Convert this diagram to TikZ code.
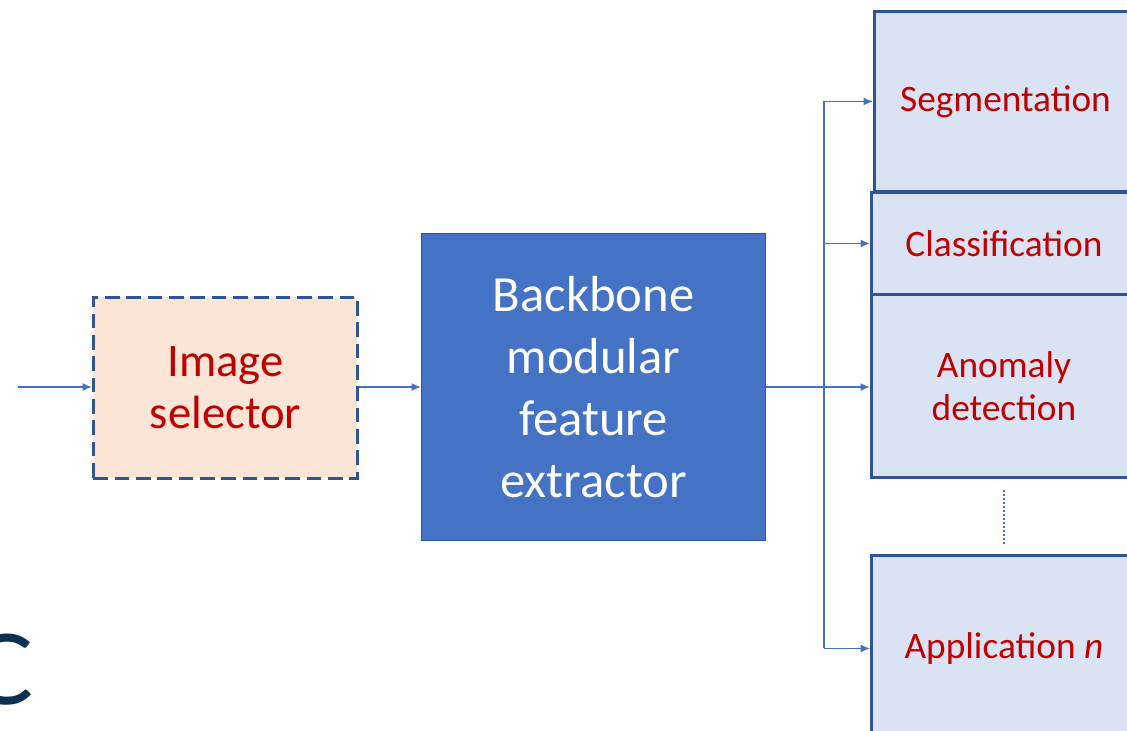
\documentclass[tikz,border=0pt]{standalone}
\usepackage{fontspec}
\setmainfont{Carlito}
\newfontfamily\labelfont{Lato}
\usetikzlibrary{arrows.meta}
\definecolor{redtxt}{HTML}{C00000}
\definecolor{peach}{HTML}{FBE5D6}
\definecolor{bbblue}{HTML}{4472C4}
\definecolor{lightblue}{HTML}{DAE3F3}
\definecolor{edgeblue}{HTML}{2F5597}
\definecolor{navy}{HTML}{0D3050}
\tikzset{
  arr/.style={draw=bbblue, line width=1.1pt, -{Latex[length=7pt,width=6pt]}},
  busline/.style={draw=bbblue, line width=1.1pt},
  selbox/.style={draw=edgeblue, fill=peach, line width=2.2pt, dash pattern=on 11pt off 5pt,
    text=redtxt, align=center, inner sep=0pt, font=\fontsize{35}{39}\selectfont},
  bbbox/.style={draw=edgeblue, fill=bbblue, line width=0.8pt, text=white, align=center,
    inner sep=0pt, font=\fontsize{38}{46.5}\selectfont},
  appbox/.style={draw=edgeblue, fill=lightblue, line width=2.2pt, text=redtxt, align=center,
    inner sep=0pt, font=\fontsize{28}{32}\selectfont},
}
\begin{document}
\begin{tikzpicture}[x=0.75pt,y=-0.75pt]
\useasboundingbox (0,0) rectangle (1127,731);
\clip (0,0) rectangle (1127,731);
% image selector
\node[selbox, minimum width=198pt, minimum height=135.75pt, anchor=north west] (sel) at (92,296) {Image\\selector};
% backbone
\node[bbbox, minimum width=258pt, minimum height=230.25pt, anchor=north west] (bb) at (421,233) {Backbone\\modular\\feature\\extractor};
% application boxes
\node[appbox, minimum width=196.5pt, minimum height=135pt, anchor=north west] (sg) at (873,10) {Segmentation};
\node[appbox, minimum width=198.75pt, minimum height=76.5pt, anchor=north west] (cl) at (870,191) {Classification};
\node[appbox, minimum width=198.75pt, minimum height=137.25pt, anchor=north west] (an) at (870,293) {Anomaly\\detection};
\node[appbox, minimum width=198.75pt, minimum height=139.5pt, anchor=north west] (ap) at (870,554) {Application \textit{n}};
% input
\coordinate (in) at (18,387);
\draw[arr] (in) -- (in -| sel.west);
\draw[arr] (sel.east |- bb.west) -- (bb.west);
% bus
\coordinate (bus) at (824,387);
\draw[arr] (bb.east) -- (bb.east -| an.west);
\draw[busline] (bus |- sg.west) -- (bus |- ap.west);
\draw[arr] (bus |- sg.west) -- (sg.west);
\draw[arr] (bus |- cl.west) -- (cl.west);
\draw[arr] (bus |- ap.west) -- (ap.west);
% dots
\coordinate (d1) at (1004,490);
\coordinate (d2) at (1004,545);
\draw[bbblue, line width=1pt, dash pattern=on 1.5pt off 1.5pt] (d1) -- (d2);
% panel label
\node[anchor=base east, inner sep=0pt, text=navy, font=\labelfont\fontsize{73}{73}\selectfont] (lbl) at (34,704) {C};
\end{tikzpicture}
\end{document}
